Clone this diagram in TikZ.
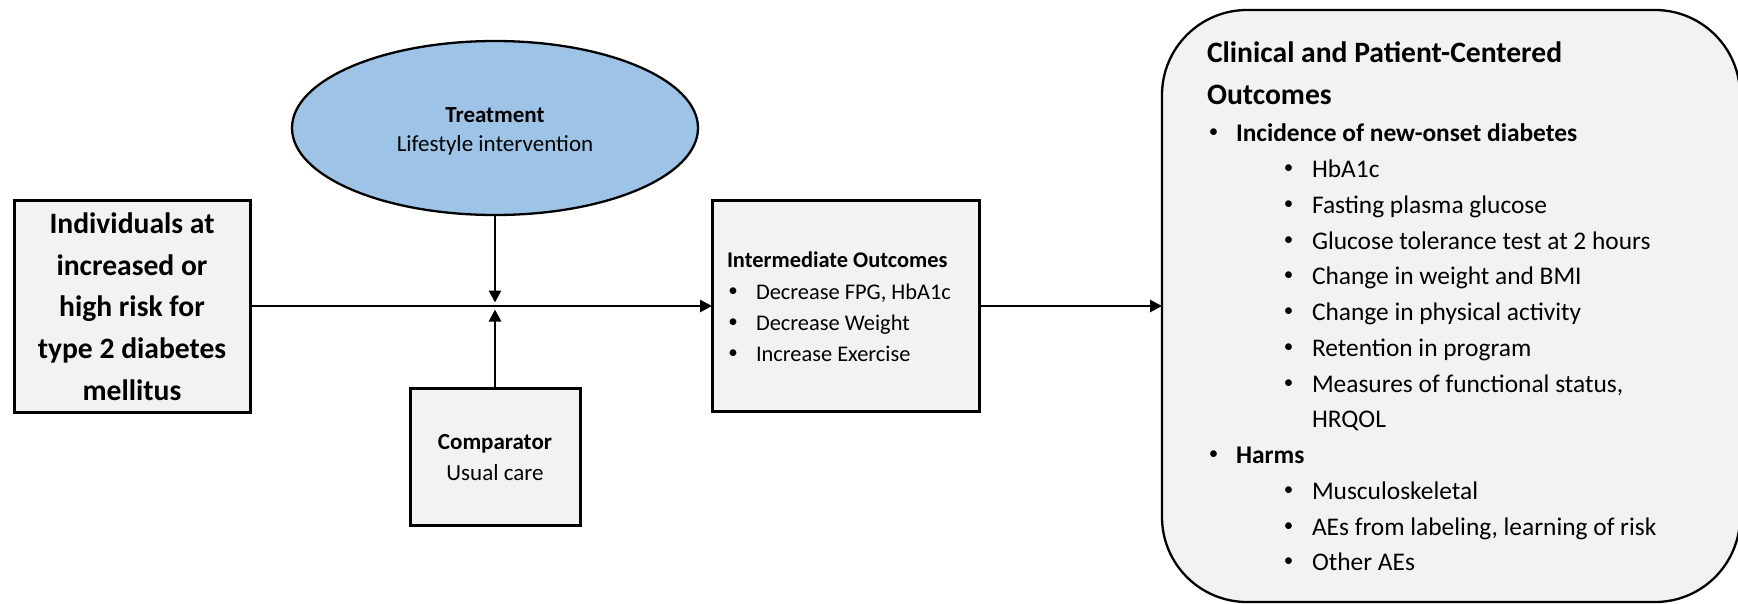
\documentclass[tikz,border=0pt]{standalone}
\usepackage{fontspec}
\setmainfont{Carlito}
\usetikzlibrary{shapes.geometric,arrows.meta}
\definecolor{boxgray}{HTML}{F2F2F2}
\definecolor{ellblue}{HTML}{9DC3E6}
\newcommand\myTitle{\fontsize{29.6pt}{41.7pt}\selectfont}
\newcommand\myBody{\fontsize{25.4pt}{35.75pt}\selectfont}
\newcommand\myMid{\fontsize{23pt}{29pt}\selectfont}
\newcommand\mySmall{\fontsize{22.4pt}{31pt}\selectfont}
\newcommand\myBul{\fontsize{19pt}{19pt}\selectfont}
\tikzset{
  box/.style={draw, line width=3pt, fill=boxgray, inner sep=0pt, outer sep=0pt},
  arr/.style={line width=2.7pt, -{Triangle[length=12pt,width=12pt]}},
  tl/.style={inner sep=0pt, outer sep=0pt, anchor=base west},
  tc/.style={inner sep=0pt, outer sep=0pt, anchor=base},
  bul/.style={inner sep=0pt, outer sep=0pt, anchor=center, font=\myBul},
}
\begin{document}
\begin{tikzpicture}[x=1pt,y=-1pt]
\useasboundingbox (0,0) rectangle (1738,603);
\fill[white] (0,0) rectangle (1738,603);

% shapes
\node[box, minimum width=236pt, minimum height=212pt] (pop) at (132,306) {};
\node[draw, line width=2.3pt, fill=ellblue, ellipse, inner sep=0pt, outer sep=0pt,
      minimum width=406pt, minimum height=174pt] (treat) at (495,128) {};
\node[box, minimum width=170pt, minimum height=137pt] (comp) at (495,456.5) {};
\node[box, minimum width=267pt, minimum height=211pt] (inter) at (845.5,306) {};
\node[draw, line width=2.3pt, fill=boxgray, rounded corners=85pt, inner sep=0pt, outer sep=0pt,
      minimum width=578pt, minimum height=592pt] (outc) at (1451,306) {};

% connectors
\coordinate (tTip) at (495,302.5);
\coordinate (cTip) at (495,309.5);
\draw[arr] (pop.east) -- (inter.west);
\draw[arr] (treat.south) -- (tTip);
\draw[arr] (comp.north) -- (cTip);
\draw[arr] (inter.east) -- (outc.west);

% population text
\node[tc, font=\myTitle\bfseries] (p1) at (132,233.3) {Individuals at};
\node[tc, font=\myTitle\bfseries] (p2) at (132,275) {increased or};
\node[tc, font=\myTitle\bfseries] (p3) at (132,316.7) {high risk for};
\node[tc, font=\myTitle\bfseries] (p4) at (132,358.4) {type 2 diabetes};
\node[tc, font=\myTitle\bfseries] (p5) at (132,400.1) {mellitus};

% treatment text
\node[tc, font=\myMid\bfseries] (t1) at (495,122.7) {Treatment};
\node[tc, font=\myMid] (t2) at (495,151.7) {Lifestyle intervention};

% comparator text
\node[tc, font=\myMid\bfseries] (c1) at (495,449.3) {Comparator};
\node[tc, font=\myMid] (c2) at (495,480) {Usual care};

% intermediate outcomes
\node[tl, font=\mySmall\bfseries] (i0) at (727,267.3) {Intermediate Outcomes};
\node[bul] (ib1) at (733,291.7) {•};
\node[tl, font=\mySmall] (i1) at (756,299) {Decrease FPG, HbA1c};
\node[bul] (ib2) at (733,322.7) {•};
\node[tl, font=\mySmall] (i2) at (756,330) {Decrease Weight};
\node[bul] (ib3) at (733,353.7) {•};
\node[tl, font=\mySmall] (i3) at (756,361) {Increase Exercise};

% clinical outcomes
\node[tl, font=\myTitle\bfseries] (o0) at (1207,62.7) {Clinical and Patient-Centered};
\node[tl, font=\myTitle\bfseries] (o00) at (1207,104.3) {Outcomes};
\node[bul] (ob1) at (1213.7,133.4) {•};
\node[tl, font=\myBody\bfseries] (o1) at (1236,141.7) {Incidence of new-onset diabetes};
\node[bul] (ob2) at (1288.7,169.1) {•};
\node[tl, font=\myBody] (o2) at (1312,177.4) {HbA1c};
\node[bul] (ob3) at (1288.7,204.9) {•};
\node[tl, font=\myBody] (o3) at (1312,213.2) {Fasting plasma glucose};
\node[bul] (ob4) at (1288.7,240.7) {•};
\node[tl, font=\myBody] (o4) at (1312,249) {Glucose tolerance test at 2 hours};
\node[bul] (ob5) at (1288.7,276.4) {•};
\node[tl, font=\myBody] (o5) at (1312,284.7) {Change in weight and BMI};
\node[bul] (ob6) at (1288.7,312.2) {•};
\node[tl, font=\myBody] (o6) at (1312,320.5) {Change in physical activity};
\node[bul] (ob7) at (1288.7,347.9) {•};
\node[tl, font=\myBody] (o7) at (1312,356.2) {Retention in program};
\node[bul] (ob8) at (1288.7,383.7) {•};
\node[tl, font=\myBody] (o8) at (1312,392) {Measures of functional status,};
\node[tl, font=\myBody] (o9) at (1312,427.7) {HRQOL};
\node[bul] (ob10) at (1213.7,455.2) {•};
\node[tl, font=\myBody\bfseries] (o10) at (1236,463.5) {Harms};
\node[bul] (ob11) at (1288.7,490.9) {•};
\node[tl, font=\myBody] (o11) at (1312,499.2) {Musculoskeletal};
\node[bul] (ob12) at (1288.7,526.7) {•};
\node[tl, font=\myBody] (o12) at (1312,535) {AEs from labeling, learning of risk};
\node[bul] (ob13) at (1288.7,562.4) {•};
\node[tl, font=\myBody] (o13) at (1312,570.7) {Other AEs};
\end{tikzpicture}
\end{document}
